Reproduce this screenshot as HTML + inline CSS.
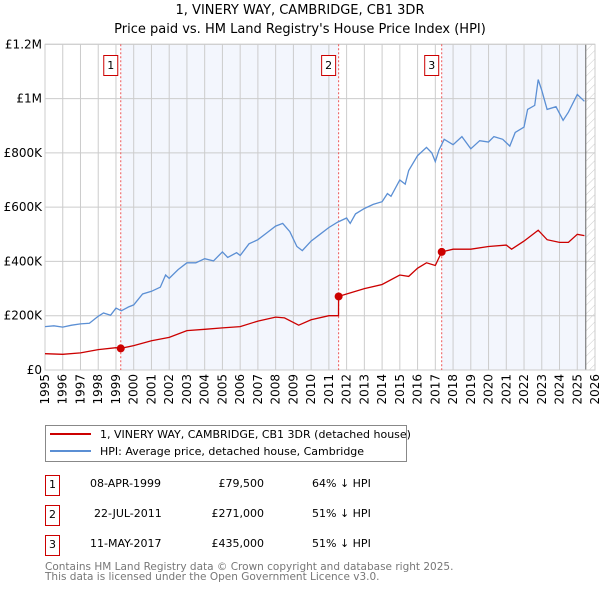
<!DOCTYPE html>
<html><head><meta charset="utf-8"><style>
body{margin:0;background:#fff;font-family:"DejaVu Sans","Liberation Sans",sans-serif;}
svg text{font-family:"DejaVu Sans","Liberation Sans",sans-serif;}
</style></head><body>
<svg id="c" width="600" height="590" xmlns="http://www.w3.org/2000/svg">
<defs><pattern id="hatch" width="6" height="6" patternUnits="userSpaceOnUse" patternTransform="rotate(45)"><line x1="0" y1="0" x2="0" y2="6" stroke="#ccc" stroke-width="1"/></pattern></defs>
<text x="300" y="14" text-anchor="middle" font-size="13">1, VINERY WAY, CAMBRIDGE, CB1 3DR</text>
<text x="300" y="33" text-anchor="middle" font-size="13">Price paid vs. HM Land Registry's House Price Index (HPI)</text>
<g id="plot"></g>
<rect x="45.5" y="425.5" width="361" height="36" fill="#fff" stroke="#888"/>
<line x1="50" y1="434" x2="91" y2="434" stroke="#cc0000" stroke-width="2"/>
<text x="100" y="438" font-size="11">1, VINERY WAY, CAMBRIDGE, CB1 3DR (detached house)</text>
<line x1="50" y1="451" x2="91" y2="451" stroke="#5b8fd4" stroke-width="2"/>
<text x="100" y="455" font-size="11">HPI: Average price, detached house, Cambridge</text>
<g font-size="11">
<rect x="45.5" y="475.5" width="14" height="20" fill="none" stroke="#cc0000"/><text x="52.5" y="488" text-anchor="middle">1</text>
<text x="90" y="487">08-APR-1999</text><text x="264" y="487" text-anchor="end">£79,500</text><text x="312" y="487">64% ↓ HPI</text>
<rect x="45.5" y="505.5" width="14" height="20" fill="none" stroke="#cc0000"/><text x="52.5" y="518" text-anchor="middle">2</text>
<text x="94" y="517">22-JUL-2011</text><text x="264" y="517" text-anchor="end">£271,000</text><text x="312" y="517">51% ↓ HPI</text>
<rect x="45.5" y="535.5" width="14" height="20" fill="none" stroke="#cc0000"/><text x="52.5" y="548" text-anchor="middle">3</text>
<text x="90" y="547">11-MAY-2017</text><text x="264" y="547" text-anchor="end">£435,000</text><text x="312" y="547">51% ↓ HPI</text>
</g>
<text x="45" y="570" font-size="10.5" fill="#777">Contains HM Land Registry data © Crown copyright and database right 2025.</text>
<text x="45" y="580" font-size="10.5" fill="#777">This data is licensed under the Open Government Licence v3.0.</text>
</svg>
<script>
const yTicks=[0,200,400,600,800,1000,1200];
const yTickLabels=["£0","£200K","£400K","£600K","£800K","£1M","£1.2M"];
const years=[1995,1996,1997,1998,1999,2000,2001,2002,2003,2004,2005,2006,2007,2008,2009,2010,2011,2012,2013,2014,2015,2016,2017,2018,2019,2020,2021,2022,2023,2024,2025,2026];
const hpiT=[1995,1995.5,1996,1996.5,1997,1997.5,1998,1998.3,1998.7,1999,1999.3,1999.7,2000,2000.5,2001,2001.5,2001.8,2002,2002.5,2003,2003.5,2004,2004.5,2005,2005.3,2005.8,2006,2006.5,2007,2007.5,2008,2008.4,2008.8,2009.2,2009.5,2010,2010.5,2011,2011.5,2012,2012.2,2012.5,2013,2013.5,2014,2014.3,2014.5,2015,2015.3,2015.5,2016,2016.5,2016.8,2017,2017.2,2017.5,2018,2018.5,2019,2019.5,2020,2020.3,2020.8,2021.2,2021.5,2022,2022.2,2022.6,2022.8,2023,2023.3,2023.8,2024.2,2024.5,2025,2025.4];
const hpiV=[160,163,158,165,170,172,198,210,202,228,218,232,240,280,290,305,350,338,370,395,395,410,402,435,415,432,422,465,480,505,530,540,510,455,440,475,500,525,545,560,540,575,595,610,620,650,640,700,685,735,790,820,800,768,810,850,830,860,815,845,840,860,850,825,875,895,960,975,1070,1030,960,970,920,950,1015,990];
const ppT=[1995,1996,1997,1998,1999,1999.27,2000,2001,2002,2003,2004,2005,2006,2007,2008,2008.5,2009.3,2010,2011,2011.54,2011.55,2012,2013,2014,2015,2015.5,2016,2016.5,2017,2017.36,2018,2019,2020,2021,2021.3,2022,2022.8,2023.3,2024,2024.5,2025,2025.4];
const ppV=[60,58,63,75,82,79.5,90,108,120,145,150,155,160,180,195,192,165,185,200,200,271,280,300,315,350,345,375,395,385,435,445,445,455,460,445,475,515,480,470,470,500,495];
const salesT=[1999.27,2011.55,2017.36];
const salesV=[79.5,271,435];
const salesLbl=["1","2","3"];
const X0=45,X1=595,Y0=370,Y1=44.3;
const xs=t=>X0+(t-1995)/(2026-1995)*(X1-X0);
const ys=v=>Y0-v/1200*(Y0-Y1);
const NS="http://www.w3.org/2000/svg";
const g=document.getElementById('plot');
function mk(tag,attrs,parent){const e=document.createElementNS(NS,tag);for(const k in attrs)e.setAttribute(k,attrs[k]);(parent||g).appendChild(e);return e;}
let e;
e=mk('rect',{x:xs(salesT[0]),y:Y1,width:xs(salesT[1])-xs(salesT[0]),height:Y0-Y1,fill:'#f3f6fd'});


e=mk('rect',{x:xs(salesT[2]),y:Y1,width:xs(2025.48)-xs(salesT[2]),height:Y0-Y1,fill:'#f3f6fd'});


e=mk('rect',{x:xs(2025.48),y:Y1,width:X1-xs(2025.48),height:Y0-Y1,fill:'url(#hatch)'});


yTicks.forEach((v,i)=>{
 e=mk('line',{x1:X0,x2:X1,y1:ys(v),y2:ys(v),stroke:'#ccc'});
 
 
 e=mk('text',{x:X0-3,y:ys(v)+4,'text-anchor':'end','font-size':12});
 e.textContent=yTickLabels[i];
 
 
});
years.forEach(yr=>{
 e=mk('line',{x1:xs(yr),x2:xs(yr),y1:Y1,y2:Y0,stroke:'#ccc'});
 
 
 e=mk('text',{x:0,y:0,'text-anchor':'end','font-size':12,transform:`translate(${xs(yr)+4},${Y0+4}) rotate(-90)`});
 e.textContent=yr;
 
 
});
e=mk('line',{x1:xs(2025.48),x2:xs(2025.48),y1:Y1,y2:Y0,stroke:'#666'});


e=mk('rect',{x:X0,y:Y1,width:X1-X0,height:Y0-Y1,fill:'none',stroke:'#ccc'});


salesT.forEach((t,i)=>{
 e=mk('line',{x1:xs(t),x2:xs(t),y1:Y1,y2:Y0,stroke:'#e55',"stroke-dasharray":"2,2"});
 
 
 e=mk('rect',{x:xs(t)-17,y:55.5,width:14,height:20,fill:'#fff',stroke:'#cc0000'});
 
 
 e=mk('text',{x:xs(t)-10,y:69,'text-anchor':'middle','font-size':11});
 e.textContent=salesLbl[i];
 
 
});
function path(T,V){return T.map((t,i)=>(i?'L':'M')+xs(t).toFixed(1)+','+ys(V[i]).toFixed(1)).join('');}
e=mk('path',{d:path(hpiT,hpiV),fill:'none',stroke:'#5b8fd4','stroke-width':1.3});


e=mk('path',{d:path(ppT,ppV),fill:'none',stroke:'#cc0000','stroke-width':1.3});


salesT.forEach((t,i)=>{
 e=mk('circle',{cx:xs(t),cy:ys(salesV[i]),r:4,fill:'#cc0000'});
 
 
});
</script>
</body></html>
